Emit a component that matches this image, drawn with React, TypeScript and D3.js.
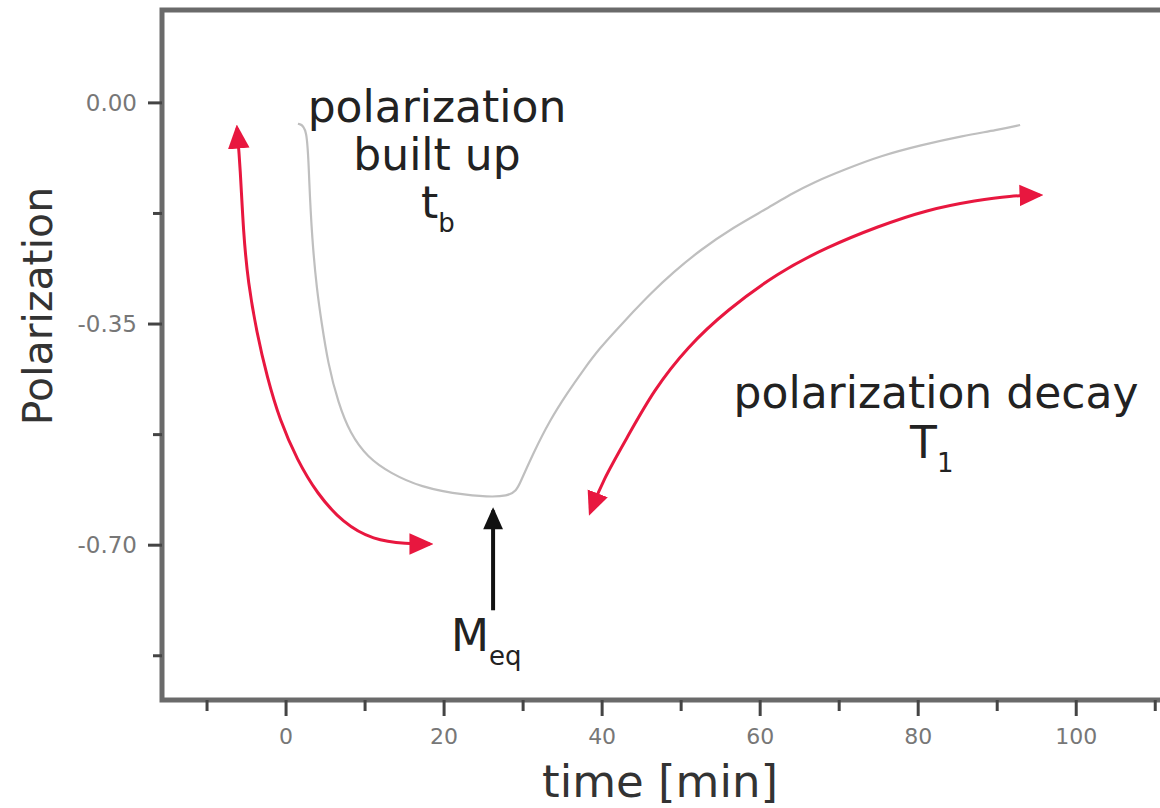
import React from "react";
import * as d3 from "d3";

const W = 1160;
const H = 808;

// measured polarization curve (build-up then decay)
const TIME = [1.5, 2.7, 2.9, 3.3, 3.9, 4.5, 5.3, 6.6, 8.1, 10.3, 13.2, 17.0, 22.4, 28.7,
  29.6, 31.3, 33.4, 35.6, 37.6, 39.7, 41.9, 43.9, 46.1, 49.0, 52.4, 56.6, 60.9, 63.8,
  66.7, 71.0, 75.2, 80.3, 85.7, 90.0, 92.9];
const POLARIZATION = [-0.033, -0.036, -0.12, -0.217, -0.296, -0.348, -0.412, -0.475, -0.523,
  -0.561, -0.586, -0.608, -0.621, -0.626, -0.602, -0.554, -0.502, -0.459, -0.423, -0.388,
  -0.358, -0.331, -0.302, -0.268, -0.233, -0.197, -0.167, -0.145, -0.126, -0.104, -0.084,
  -0.067, -0.052, -0.043, -0.035];

// red annotation arrows, in data units
const BUILD_ARROW_T = [-6.2, -5.8, -5.4, -4.8, -3.7, -2.4, -0.8, 1.4, 3.9, 7.2, 11.0, 15.3, 18.2];
const BUILD_ARROW_P = [-0.04, -0.101, -0.206, -0.285, -0.364, -0.434, -0.502, -0.565, -0.618,
  -0.665, -0.692, -0.698, -0.698];
const DECAY_ARROW_T = [38.5, 40.1, 43.2, 46.5, 50.8, 55.8, 62.2, 68.5, 74.8, 81.1, 87.5, 91.6, 95.4];
const DECAY_ARROW_P = [-0.648, -0.597, -0.529, -0.455, -0.386, -0.328, -0.269, -0.228, -0.196,
  -0.169, -0.154, -0.147, -0.146];

// M_eq pointer
const MEQ_T = 26.2;
const MEQ_FROM = -0.803;
const MEQ_TO = -0.645;

const X_TICKS = [0, 20, 40, 60, 80, 100];
const X_MINOR = [-10, 10, 30, 50, 70, 90, 110];
const Y_TICKS = [0, -0.35, -0.7];
const Y_MINOR = [-0.175, -0.525, -0.875];

const RED = "#e8173f";
const FONT = "'DejaVu Sans', Verdana, sans-serif";

export default function App() {
  const x = d3.scaleLinear().domain([-15.7, 112.5]).range([162, 1175]);
  const y = d3.scaleLinear().domain([-0.945, 0.147]).range([700, 10]);

  const curve = d3.line<number>()
    .x((d, i) => x(TIME[i]))
    .y((d) => y(d))
    .curve(d3.curveBasis);

  const arrowLine = (ts: number[]) => d3.line<number>()
    .x((d, i) => x(ts[i]))
    .y((d) => y(d))
    .curve(d3.curveBasis);

  return (
    <svg width={W} height={H} style={{position: "absolute", left: 0, top: 0, background: "#fff"}}
         fontFamily={FONT}>
      <defs>
        <marker id="redHead" markerUnits="userSpaceOnUse" markerWidth={24} markerHeight={24}
                viewBox="0 0 20 20" refX={17} refY={10} orient="auto-start-reverse">
          <path d="M0,1 L20,10 L0,19 Z" fill={RED}/>
        </marker>
        <marker id="blackHead" markerUnits="userSpaceOnUse" markerWidth={24} markerHeight={22}
                viewBox="0 0 20 20" refX={17} refY={10} orient="auto">
          <path d="M0,1 L20,10 L0,19 Z" fill="#111"/>
        </marker>
      </defs>

      {/* frame */}
      <rect x={x.range()[0]} y={y.range()[1]} width={x.range()[1] - x.range()[0]}
            height={y.range()[0] - y.range()[1]} fill="none" stroke="#6a6a6a" strokeWidth={5}/>

      {/* y ticks */}
      {Y_TICKS.map((v) => (
        <g key={"yt" + v}>
          <line x1={x.range()[0] - 14} x2={x.range()[0]} y1={y(v)} y2={y(v)} stroke="#444" strokeWidth={3}/>
          <text x={137} y={y(v) + 8} textAnchor="end" fontSize={23} fill="#777">{v.toFixed(2)}</text>
        </g>
      ))}
      {Y_MINOR.map((v) => (
        <line key={"ym" + v} x1={x.range()[0] - 9} x2={x.range()[0]} y1={y(v)} y2={y(v)}
              stroke="#444" strokeWidth={3}/>
      ))}

      {/* x ticks */}
      {X_TICKS.map((v) => (
        <g key={"xt" + v}>
          <line x1={x(v)} x2={x(v)} y1={y.range()[0]} y2={y.range()[0] + 16} stroke="#444" strokeWidth={3}/>
          <text x={x(v)} y={744} textAnchor="middle" fontSize={22} fill="#777">{v}</text>
        </g>
      ))}
      {X_MINOR.map((v) => (
        <line key={"xm" + v} x1={x(v)} x2={x(v)} y1={y.range()[0]} y2={y.range()[0] + 11}
              stroke="#444" strokeWidth={3}/>
      ))}

      {/* axis titles */}
      <text transform={`translate(52,306) rotate(-90)`} textAnchor="middle" fontSize={41} fill="#333">
        Polarization
      </text>
      <text x={660} y={797} textAnchor="middle" fontSize={45} fill="#333">time [min]</text>

      {/* data */}
      <path d={curve(POLARIZATION) ?? ""} fill="none" stroke="#bfbfbf" strokeWidth={2.2}/>

      {/* annotation arrows */}
      <path d={arrowLine(BUILD_ARROW_T)(BUILD_ARROW_P) ?? ""} fill="none" stroke={RED} strokeWidth={3}
            markerStart="url(#redHead)" markerEnd="url(#redHead)"/>
      <path d={arrowLine(DECAY_ARROW_T)(DECAY_ARROW_P) ?? ""} fill="none" stroke={RED} strokeWidth={3}
            markerStart="url(#redHead)" markerEnd="url(#redHead)"/>
      <line x1={x(MEQ_T)} x2={x(MEQ_T)} y1={y(MEQ_FROM)} y2={y(MEQ_TO)} stroke="#111" strokeWidth={4}
            markerEnd="url(#blackHead)"/>

      {/* annotation text */}
      <g fill="#222" fontSize={44}>
        <text x={437} y={122} textAnchor="middle">polarization</text>
        <text x={437} y={170} textAnchor="middle">built up</text>
        <text x={421} y={218}>t<tspan fontSize={26} dy={14}>b</tspan></text>
        <text x={936} y={408} textAnchor="middle">polarization decay</text>
        <text x={910} y={458}>T<tspan fontSize={26} dy={14}>1</tspan></text>
        <text x={451} y={651}>M<tspan fontSize={26} dy={14}>eq</tspan></text>
      </g>
    </svg>
  );
}
